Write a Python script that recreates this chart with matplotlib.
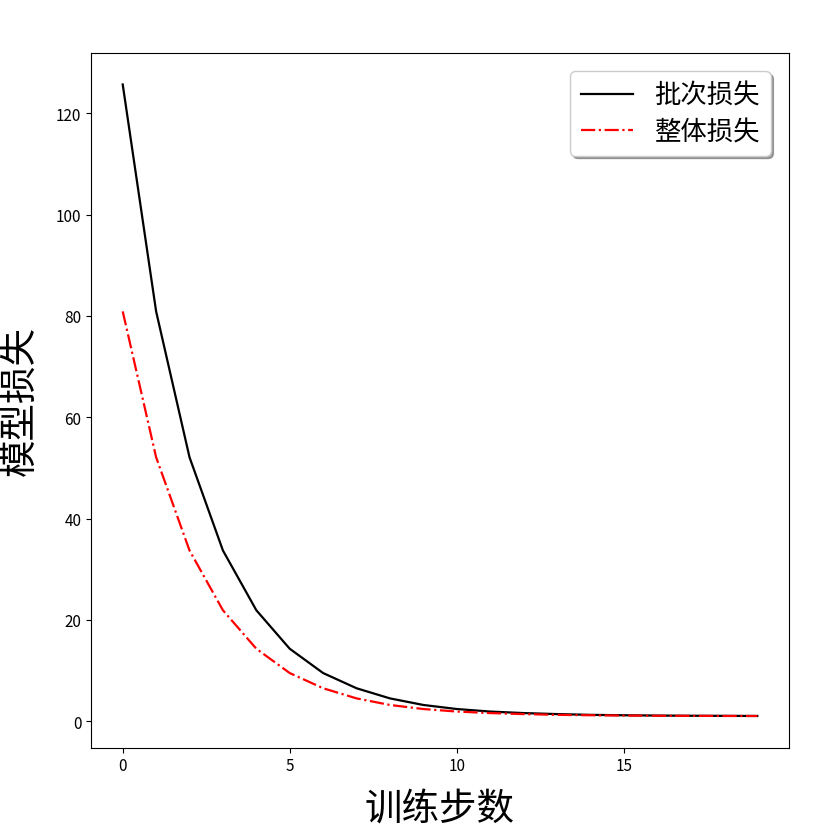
import matplotlib
matplotlib.use("Agg")
import matplotlib.pyplot as plt

plt.rcParams['font.family'] = ['Noto Sans CJK SC', 'DejaVu Sans']
plt.rcParams['axes.unicode_minus'] = False

steps = list(range(20))
batch_loss = [125.7, 80.9, 52.1, 33.7, 21.9, 14.3, 9.5, 6.5, 4.5, 3.2,
              2.4, 1.9, 1.6, 1.4, 1.25, 1.17, 1.11, 1.07, 1.05, 1.03]
total_loss = [80.9, 52.1, 33.7, 21.9, 14.3, 9.5, 6.5, 4.5, 3.2, 2.4,
              1.9, 1.6, 1.4, 1.25, 1.17, 1.11, 1.07, 1.05, 1.03, 1.02]

fig = plt.figure(figsize=(8.16, 8.29), dpi=100)
ax = fig.add_axes([0.1115, 0.097, 0.8555, 0.838])
ax.plot(steps, batch_loss, color="black", linestyle="-", linewidth=1.6, label="批次损失")
ax.plot(steps, total_loss, color="red", linestyle="-.", linewidth=1.6, label="整体损失")
ax.set_xlabel("训练步数", fontsize=27, labelpad=10)
ax.set_ylabel("模型损失", fontsize=27, labelpad=12)
ax.set_xticks([0, 5, 10, 15])
ax.tick_params(labelsize=11)
ax.legend(loc="upper right", fontsize=19, shadow=True, handlelength=2.0,
          labelspacing=0.35, borderaxespad=0.7)
fig.savefig("out.png", dpi=100)
